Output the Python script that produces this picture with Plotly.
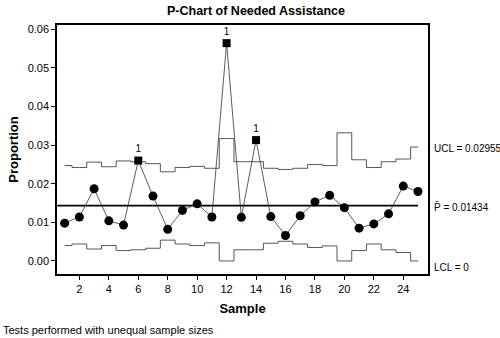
import plotly.graph_objects as go

samples = list(range(1, 26))
proportion = [0.0098, 0.0114, 0.0187, 0.0104, 0.0093, 0.0260, 0.0168, 0.0082, 0.0131, 0.0148,
              0.0114, 0.0564, 0.0113, 0.0313, 0.0115, 0.0066, 0.0117, 0.0153, 0.0170, 0.0138,
              0.0085, 0.0096, 0.0122, 0.0194, 0.0180]
ucl = [0.0247, 0.0242, 0.0256, 0.0244, 0.0259, 0.0257, 0.0252, 0.0231, 0.0242, 0.0245,
       0.0240, 0.0317, 0.0257, 0.0257, 0.0240, 0.0237, 0.0240, 0.0250, 0.0247, 0.0332,
       0.0262, 0.0242, 0.0257, 0.0264, 0.0295]
lcl = [0.0040, 0.0044, 0.0031, 0.0040, 0.0027, 0.0029, 0.0033, 0.0054, 0.0044, 0.0040,
       0.0047, 0.0, 0.0029, 0.0029, 0.0046, 0.0051, 0.0044, 0.0035, 0.0039, 0.0,
       0.0027, 0.0044, 0.0029, 0.0022, 0.0]
pbar = 0.01434
flagged = [6, 12, 14]

FONT = "Liberation Sans, Arial, sans-serif"

fig = go.Figure()
fig.add_trace(go.Scatter(x=samples, y=ucl, mode="lines", line=dict(shape="hvh", color="#555555", width=1),
                         hoverinfo="skip"))
fig.add_trace(go.Scatter(x=samples, y=lcl, mode="lines", line=dict(shape="hvh", color="#555555", width=1),
                         hoverinfo="skip"))
fig.add_trace(go.Scatter(x=[0.5, 25], y=[pbar, pbar], mode="lines", line=dict(color="black", width=1.8)))

normal_x = [s for s in samples if s not in flagged]
normal_y = [proportion[s - 1] for s in normal_x]
flag_y = [proportion[s - 1] for s in flagged]

fig.add_trace(go.Scatter(x=samples, y=proportion, mode="lines", line=dict(color="#333333", width=0.8)))
fig.add_trace(go.Scatter(x=normal_x, y=normal_y, mode="markers",
                         marker=dict(symbol="circle", size=9, color="black")))
fig.add_trace(go.Scatter(x=flagged, y=flag_y, mode="markers+text", text=["1"] * len(flagged),
                         textposition="top center", textfont=dict(family=FONT, size=10, color="black"),
                         marker=dict(symbol="square", size=8, color="black")))

fig.update_layout(
    width=500, height=338, showlegend=False,
    paper_bgcolor="white", plot_bgcolor="white",
    margin=dict(l=57, r=72, t=25, b=64),
    font=dict(family=FONT, size=11, color="black"),
    title=dict(text="<b>P-Chart of Needed Assistance</b>", x=0.512, xanchor="center", y=0.982, yanchor="top",
               font=dict(family=FONT, size=12.5, color="black")),
    xaxis=dict(range=[0.48, 25.68], tickvals=list(range(2, 26, 2)), showgrid=False, zeroline=False,
               showline=True, linecolor="black", linewidth=1.5, mirror=True,
               ticks="outside", ticklen=4, tickcolor="black", tickfont=dict(size=11),
               title=dict(text="<b>Sample</b>", font=dict(size=13), standoff=10)),
    yaxis=dict(range=[-0.00337, 0.0611], tickvals=[0, 0.01, 0.02, 0.03, 0.04, 0.05, 0.06], tickformat=".2f",
               showgrid=False, zeroline=False,
               showline=True, linecolor="black", linewidth=1.5, mirror=True,
               ticks="outside", ticklen=4, tickcolor="black", tickfont=dict(size=11),
               title=dict(text="<b>Proportion</b>", font=dict(size=13), standoff=6)),
)

fig.add_annotation(x=1, xref="paper", xanchor="left", xshift=4, y=0.0291, yref="y", showarrow=False,
                   text="UCL = 0.02955", font=dict(size=10))
fig.add_annotation(x=1, xref="paper", xanchor="left", xshift=4, y=0.0140, yref="y", showarrow=False,
                   text="P̄ = 0.01434", font=dict(size=10))
fig.add_annotation(x=1, xref="paper", xanchor="left", xshift=4, y=-0.0018, yref="y", showarrow=False,
                   text="LCL = 0", font=dict(size=10))
fig.add_annotation(x=0, xref="paper", xanchor="left", xshift=-56, y=0, yref="paper", yanchor="top",
                   yshift=-48, showarrow=False, text="Tests performed with unequal sample sizes",
                   font=dict(size=11))

fig.write_html("out.html")
